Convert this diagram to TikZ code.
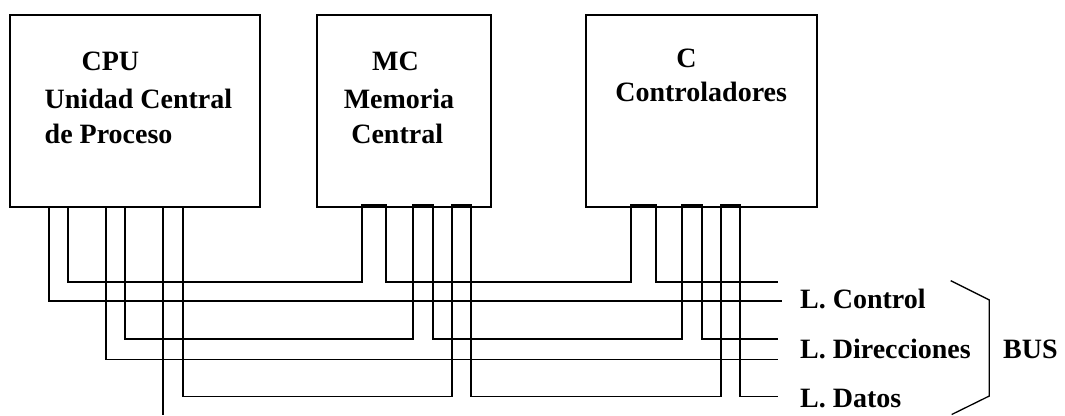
\documentclass[tikz,border=0pt]{standalone}
\usepackage{fontspec}
\setmainfont{Liberation Serif}
\begin{document}
\begin{tikzpicture}[x=1pt,y=-1pt,
  unitbox/.style={draw,line width=2pt,inner sep=0pt,outer sep=0pt,anchor=north west},
  lbl/.style={inner sep=0pt,font=\fontsize{28}{34}\selectfont\bfseries},
  bus/.style={line width=1.8pt},
  brace/.style={line width=1.3pt}]
\useasboundingbox (0,0) rectangle (1065,415);

% functional units
\node[unitbox,minimum width=250.5pt,minimum height=191.5pt] (cpu) at (9.5,15) {};
\node[unitbox,minimum width=174pt,minimum height=191.5pt] (mc) at (316.7,15) {};
\node[unitbox,minimum width=230.7pt,minimum height=192pt] (ctl) at (586,14.5) {};

% unit captions
\node[lbl,anchor=base west] (cpu1) at (81.4,70.2) {CPU};
\node[lbl,anchor=base west] (cpu2) at (44.5,108.3) {Unidad Central};
\node[lbl,anchor=base west] (cpu3) at (44.5,143.5) {de Proceso};
\node[lbl,anchor=base] (mc1) at (395.5,70.2) {MC};
\node[lbl,anchor=base] (mc2) at (399,108.3) {Memoria};
\node[lbl,anchor=base] (mc3) at (397.2,143.5) {Central};
\node[lbl,anchor=base] (c1) at (686.5,67.7) {C};
\node[lbl,anchor=base] (c2) at (701.2,101.7) {Controladores};

% bus line labels
\node[lbl,anchor=base west] (lctl) at (800,308.3) {L. Control};
\node[lbl,anchor=base west] (ldir) at (800,358.3) {L. Direcciones};
\node[lbl,anchor=base west] (ldat) at (800,407.3) {L. Datos};
\node[lbl,anchor=base west] (bus) at (1003,358.3) {BUS};

% free ends of the bus lines
\coordinate (e1) at (777.7,282);
\coordinate (e2) at (781.7,301);
\coordinate (e3) at (777.7,339);
\coordinate (e4) at (777.7,359.5);
\coordinate (e5) at (777.7,396.5);
\coordinate (e6) at (163.3,415);

% control line 1: CPU, MC and C
\draw[bus] (67.7,0 |- cpu.south) |- (361.7,282) |- (386,205) |- (631,282)
  |- (656,205) |- (e1);
% control line 2: CPU only
\draw[bus] (48.7,0 |- cpu.south) |- (e2);
% address line 1: CPU, MC and C
\draw[bus] (125.3,0 |- cpu.south) |- (413.3,339) |- (432.7,205) |- (682.3,339)
  |- (701.7,205) |- (e3);
% address line 2: CPU only
\draw[bus] (106,0 |- cpu.south) |- (e4);
% data line 1: CPU, MC and C
\draw[bus] (182.7,0 |- cpu.south) |- (451.7,396.5) |- (471,205) |- (720.7,396.5)
  |- (740,205) |- (e5);
% data line 2: CPU
\draw[bus] (163.3,0 |- cpu.south) -- (e6);

% brace grouping the three line groups
\draw[brace] (950.7,280.7) -- (989.3,300) -- (989.3,396) -- (951.7,414.5);
\end{tikzpicture}
\end{document}
